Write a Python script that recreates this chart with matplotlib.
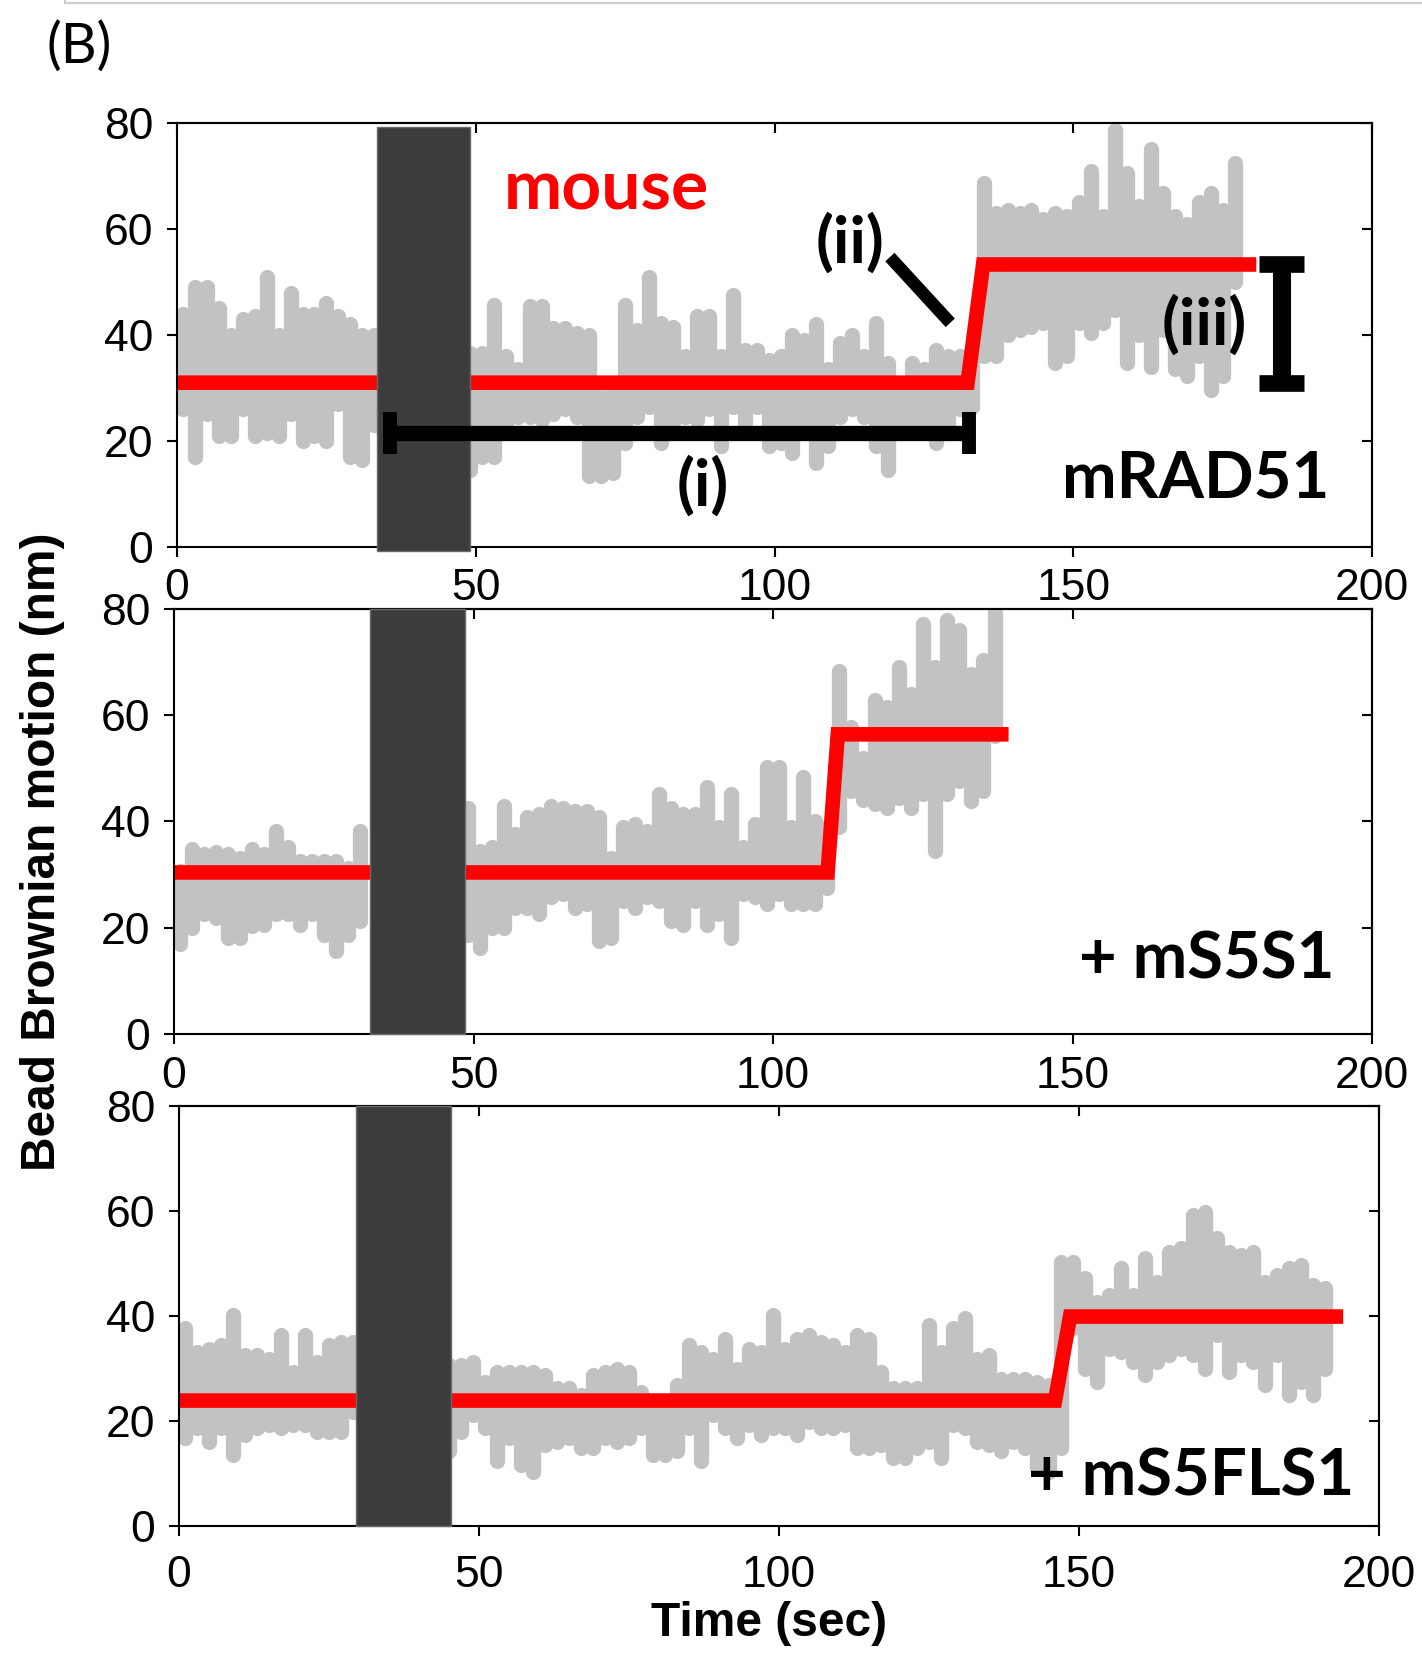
import numpy as np
import matplotlib.pyplot as plt
from matplotlib.lines import Line2D
from matplotlib.patches import Rectangle

# gray traces are read off in 2 s bins: top and bottom edge of the scatter band
# panel 1 : mRAD51
p1_t_a = np.arange(1, 34, 2)
p1_hi_a = [44, 49, 49, 45, 40, 43, 43.5, 51, 40, 48, 44, 44, 46, 43.5, 42, 40, 40]
p1_lo_a = [26, 17, 25, 21, 21, 26, 21, 21.5, 21, 25, 20, 21, 20, 27, 17, 16.5, 23]
p1_t_b = np.arange(49, 178, 2)
p1_hi_b = [36.6, 36.6, 45.7, 36, 33.5, 45.4, 45.4, 41.3, 41.3, 40.4, 40, 28.4, 29, 45.7, 41,
           51, 42.3, 41.6, 36, 43.5, 43.5, 36, 47.6, 37.2, 37.2, 35.3, 36, 40, 39, 42,
           33.5, 38.5, 40, 36, 42.3, 34.7, 30.3, 34.7, 33.5, 37.2, 36, 36, 37, 68.7, 63,
           63.6, 63, 63.6, 61.8, 63, 62.4, 65, 71, 62.4, 78.7, 70.6, 64.3, 75, 66.8, 62.4,
           61, 65, 66.8, 63.6, 72.5]
p1_lo_b = [14.6, 17, 17, 23, 24.6, 24.6, 24, 25, 26, 24.6, 13.3, 13.3, 14, 19.6, 24.6,
           26.5, 19.6, 23.4, 24.6, 24, 26, 19, 26.5, 23.4, 26.5, 19, 19.6, 17.7, 23.4, 15.8,
           19, 24.6, 26, 24.6, 19, 14.6, 21.5, 24, 23.4, 19.6, 23.4, 26, 26.5, 36, 36,
           40, 41, 41.6, 42.3, 34.7, 36, 42.3, 40.4, 42.3, 44.8, 34.7, 40, 34, 41, 33.5,
           32.2, 36, 29.7, 32.2, 50]
p1_step_t = [0, 132.3, 134.9, 179.4]
p1_step_y = [31, 31, 53.3, 53.3]
p1_bar = [33.5, 49.0]

# panel 2 : + mS5S1
p2_t_a = np.arange(1, 32, 2)
p2_hi_a = [30.7, 34.8, 33.8, 34.2, 33.8, 33.2, 34.8, 33.8, 38.2, 35.1, 32.6, 32.6, 32.6,
           32.6, 31.3, 38.2]
p2_lo_a = [16.9, 20, 22.5, 21.9, 18.1, 18.1, 20.3, 20.6, 22.5, 22.5, 20.6, 22.5, 18.7,
           15.6, 18.7, 21.3]
p2_t_b = np.arange(49, 138, 2)
p2_hi_b = [42.6, 34.5, 35.1, 43, 37.6, 40.8, 41.4, 43, 42.6, 42, 42, 40.8, 33.2, 38.9, 39.5,
           38.2, 45.2, 42.6, 41.4, 41.4, 46.4, 38.9, 45.2, 35.1, 39.5, 50.2, 50.2, 38.9,
           48.3, 40, 38.9, 68.4, 57.7, 52, 62.8, 61.5, 69, 64, 77.2, 69, 77.9, 76, 67.8,
           70.3, 79.7]
p2_lo_b = [18.7, 16.2, 20, 20, 23.8, 23.8, 22.5, 25.7, 26.3, 23.8, 24.4, 17.5, 18.1, 25,
           23.8, 25.7, 25, 21.3, 20.6, 25, 20.6, 22.5, 18.1, 26.3, 25.7, 24.4, 26.3, 24.4,
           24.4, 24.4, 27.5, 38.9, 45.8, 44, 43.3, 42.6, 44.5, 42.6, 45.2, 34.5, 45.2, 47.7,
           43.9, 45.8, 56]
p2_step_t = [0, 109.1, 110.8, 138.1]
p2_step_y = [30.4, 30.4, 56.4, 56.4]
p2_bar = [32.7, 48.5]

# panel 3 : + mS5FLS1
p3_t_a = np.arange(1, 30, 2)
p3_hi_a = [37.7, 33.2, 33.8, 34.5, 40.2, 32.6, 32.6, 31.9, 36.4, 29.4, 36.4, 31.3, 34.5,
           35.1, 35.1]
p3_lo_a = [16.7, 18.6, 16.1, 18.6, 13.5, 17.3, 18.6, 19.2, 18.6, 19.2, 19.2, 18, 18, 18,
           21.8]
p3_t_b = np.arange(45, 192, 2)
p3_hi_b = [30.7, 30.7, 31.3, 27.5, 29.4, 29.4, 29.4, 29.4, 28.8, 26.2, 26.2, 25, 28.8, 29.4,
           30, 29.4, 25.6, 23, 23, 26.9, 34.5, 33.2, 31.9, 35.7, 30, 33.8, 33.2, 40.2,
           33.8, 35.7, 36.4, 35.1, 34.5, 33.2, 36.4, 35.7, 29.4, 26.2, 26.2, 26.2, 38.3,
           33.2, 37.7, 39.6, 31.9, 32.6, 28.1, 28.1, 28.1, 27.5, 26.9, 50.3, 50.3, 47.2,
           42.7, 44, 49.1, 44, 51, 46.5, 52.2, 52.9, 59.2, 59.9, 54.8, 52.2, 51.6, 52.2,
           46.5, 47.8, 49.1, 49.7, 45.9, 45.3]
p3_lo_b = [14.2, 18, 21.1, 18.6, 12.3, 16.7, 11.6, 10.3, 15.4, 16.1, 16.7, 14.8, 14.8, 16.7,
           16.1, 16.7, 18.6, 13.5, 13.5, 14.2, 18.6, 12.3, 21.1, 18.6, 16.7, 19.2, 17.3,
           18.6, 18.6, 17.3, 19.9, 18.6, 18.6, 19.2, 14.8, 14.8, 15.4, 12.9, 12.9, 14.8,
           16.1, 12.9, 19.2, 18.6, 16.1, 15.4, 14.2, 16.1, 14.8, 11, 10.3, 14.8, 37.7, 30,
           27.5, 33.8, 33.2, 31.3, 28.8, 31.3, 32.6, 33.8, 32.6, 30, 36.4, 29.4, 32.6, 31.3,
           26.9, 32.6, 25, 27.5, 25, 30]
p3_step_t = [0, 146.0, 148.5, 192.8]
p3_step_y = [23.9, 23.9, 39.9, 39.9]
p3_bar = [29.5, 45.3]

x_ticks = [0, 50, 100, 150, 200]
y_ticks = [0, 20, 40, 60, 80]

GRAY = '#c2c2c2'
BAR = '#3c3c3c'
TICK_FONT = 'Liberation Sans'
ANNOT_FONT = 'Lato'

fig = plt.figure(figsize=(14.22, 16.53), dpi=100)
ax1 = fig.add_axes([0.1245, 0.6691, 0.8404, 0.2565])
ax2 = fig.add_axes([0.1224, 0.3745, 0.8425, 0.2571])
ax3 = fig.add_axes([0.1259, 0.0768, 0.8439, 0.2541])

panels = [
    (ax1, [(p1_t_a, p1_lo_a, p1_hi_a), (p1_t_b, p1_lo_b, p1_hi_b)], p1_step_t, p1_step_y, p1_bar, (-0.8, 79.2), 8),
    (ax2, [(p2_t_a, p2_lo_a, p2_hi_a), (p2_t_b, p2_lo_b, p2_hi_b)], p2_step_t, p2_step_y, p2_bar, (0, 80), 9),
    (ax3, [(p3_t_a, p3_lo_a, p3_hi_a), (p3_t_b, p3_lo_b, p3_hi_b)], p3_step_t, p3_step_y, p3_bar, (0, 80), 13.5),
]

for ax, segs, st, sy, bar, bar_y, xpad in panels:
    for t, lo, hi in segs:
        lc = ax.vlines(t, lo, hi, colors=GRAY, lw=11, zorder=1)
        lc.set_capstyle('round')
    ax.plot(st, sy, color='#ff0000', lw=10.5, solid_joinstyle='miter', zorder=2)
    ax.add_patch(Rectangle((bar[0], bar_y[0]), bar[1] - bar[0], bar_y[1] - bar_y[0],
                           facecolor=BAR, edgecolor='#6a6a6a', lw=1, zorder=3, clip_on=False))

    ax.set_xlim(0, 200)
    ax.set_ylim(0, 80)
    ax.set_xticks(x_ticks)
    ax.set_yticks(y_ticks)
    ax.tick_params(axis='both', direction='out', length=7, width=1.5, labelsize=32)
    ax.tick_params(axis='x', pad=xpad)
    ax.tick_params(axis='y', pad=10)
    for lab in ax.get_xticklabels() + ax.get_yticklabels():
        lab.set_fontfamily(TICK_FONT)
    for sp in ax.spines.values():
        sp.set_linewidth(1.5)

    top = ax.secondary_xaxis('top')
    top.set_xticks(x_ticks)
    top.tick_params(direction='in', length=7, width=1.5, labeltop=False)
    right = ax.secondary_yaxis('right')
    right.set_yticks(y_ticks)
    right.tick_params(direction='in', length=7, width=1.5, labelright=False)
    for sec in (top, right):
        for sp in sec.spines.values():
            sp.set_linewidth(1.5)

# annotations on the first panel
ax1.text(71.8, 63.6, 'mouse', color='#ff0000', fontsize=50, fontweight='bold',
         family=ANNOT_FONT, ha='center', va='baseline', zorder=5)
ax1.plot([35.6, 132.5], [21.5, 21.5], color='black', lw=11, solid_capstyle='butt', zorder=4)
ax1.plot([35.6, 35.6], [17.5, 25.5], color='black', lw=10, solid_capstyle='butt', zorder=4)
ax1.plot([132.5, 132.5], [17.5, 25.5], color='black', lw=10, solid_capstyle='butt', zorder=4)
ax1.text(88, 7.7, '(i)', fontsize=47, fontweight='bold', family=ANNOT_FONT,
         ha='center', va='baseline', zorder=5)
ax1.plot([119.3, 129.4], [54.7, 42.3], color='black', lw=9, solid_capstyle='butt', zorder=4)
ax1.text(112.6, 53.6, '(ii)', fontsize=47, fontweight='bold', family=ANNOT_FONT,
         ha='center', va='baseline', zorder=5)
ax1.plot([184.9, 184.9], [31, 53.3], color='black', lw=13, solid_capstyle='butt', zorder=4)
ax1.plot([181, 188.6], [53.3, 53.3], color='black', lw=12, solid_capstyle='butt', zorder=4)
ax1.plot([181, 188.6], [31, 31], color='black', lw=12, solid_capstyle='butt', zorder=4)
ax1.text(171.9, 38.1, '(iii)', fontsize=47, fontweight='bold', family=ANNOT_FONT,
         ha='center', va='baseline', zorder=5)
ax1.text(192.8, 9.4, 'mRAD51', fontsize=47, fontweight='bold', family=ANNOT_FONT,
         ha='right', va='baseline', zorder=5)
ax2.text(193.8, 10.5, '+ mS5S1', fontsize=47, fontweight='bold', family=ANNOT_FONT,
         ha='right', va='baseline', zorder=5)
ax3.text(195.8, 5.9, '+ mS5FLS1', fontsize=47, fontweight='bold', family=ANNOT_FONT,
         ha='right', va='baseline', zorder=5)

fig.text(0.030, 0.4846, 'Bead Brownian motion (nm)', rotation=90, fontsize=34.5,
         fontweight='bold', family=TICK_FONT, ha='center', va='center')
fig.text(0.541, 0.018, 'Time (sec)', fontsize=34.5, fontweight='bold', family=TICK_FONT,
         ha='center', va='center')
fig.text(0.0556, 0.9716, '(B)', fontsize=40, family=ANNOT_FONT, ha='center', va='center')

# light frame edge left over from the source page
fig.add_artist(Line2D([65 / 1422, 1.0], [1 - 3 / 1653, 1 - 3 / 1653], color='#cccccc', lw=1.5))
fig.add_artist(Line2D([65 / 1422, 65 / 1422], [1 - 3 / 1653, 1.0], color='#cccccc', lw=1.5))

fig.savefig('out.png', dpi=100)
